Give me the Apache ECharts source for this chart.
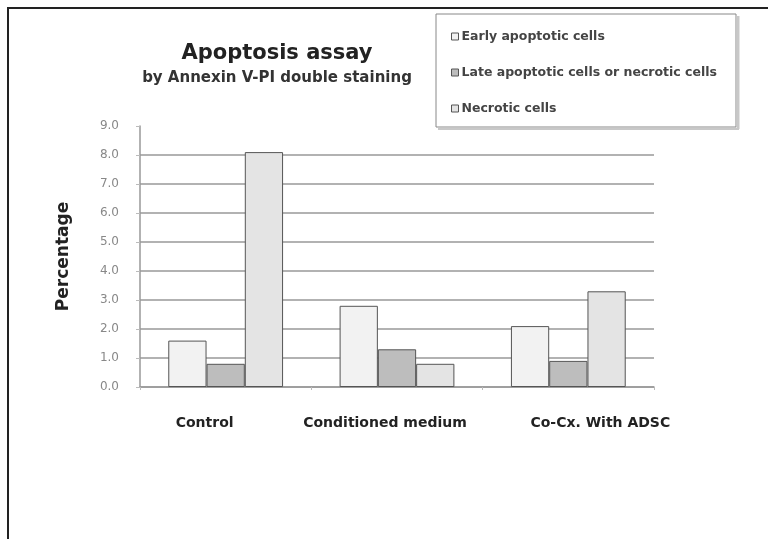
<!DOCTYPE html>
<html><head><meta charset="utf-8">
<script src="https://cdn.jsdelivr.net/npm/echarts@6/dist/echarts.min.js"></script>
<style>html,body{margin:0;padding:0;background:#fff}#c{width:768px;height:539px}</style>
</head><body><div id="c"></div>
<script>
var categories = ['Control', 'Conditioned medium', 'Co-Cx. With ADSC'];
var seriesNames = ['Early apoptotic cells', 'Late apoptotic cells or necrotic cells', 'Necrotic cells'];
var earlyApoptotic = [1.6, 2.8, 2.1];
var lateApoptotic = [0.8, 1.3, 0.9];
var necrotic = [8.1, 0.8, 3.3];
var seriesColors = ['#f2f2f2', '#bdbdbd', '#e4e4e4'];
var ff = '"DejaVu Sans", sans-serif';

var chart = echarts.init(document.getElementById('c'));
var vals = [earlyApoptotic, lateApoptotic, necrotic];
var lblBase = {fontFamily: ff, fontSize: 14, fontWeight: 'bold', color: '#222'};
chart.setOption({
  animation: false,
  backgroundColor: '#fff',
  title: [
    {text: 'Apoptosis assay', left: 272, top: 38, textAlign: 'center',
     textStyle: {fontFamily: ff, fontSize: 21, fontWeight: 'bold', color: '#222'}},
    {text: 'by Annexin V-PI double staining', left: 272, top: 66, textAlign: 'center',
     textStyle: {fontFamily: ff, fontSize: 15, fontWeight: 'bold', color: '#333'}}
  ],
  legend: {
    orient: 'vertical', left: 446, top: 25, itemGap: 23,
    itemWidth: 7, itemHeight: 7, icon: 'rect',
    data: seriesNames,
    textStyle: {fontFamily: ff, fontSize: 12.5, fontWeight: 'bold', color: '#444', padding: [0,0,0,-2]},
    itemStyle: {borderColor: '#555', borderWidth: 1}
  },
  graphic: [
    {type: 'rect', shape: {x: 8, y: 8, width: 900, height: 700}, style: {fill: 'none', stroke: '#222', lineWidth: 2}, silent: true, z: -1},
    {type: 'rect', shape: {x: 436, y: 14, width: 300, height: 113}, style: {fill: 'none', stroke: '#888', lineWidth: 1}, silent: true},
    {type: 'line', shape: {x1: 738, y1: 16, x2: 738, y2: 129}, style: {stroke: '#c8c8c8', lineWidth: 3}, silent: true},
    {type: 'line', shape: {x1: 438, y1: 129, x2: 739, y2: 129}, style: {stroke: '#c8c8c8', lineWidth: 2}, silent: true}
  ],
  grid: {left: 140, right: 114, top: 126, bottom: 152},
  xAxis: {
    type: 'category', data: categories,
    axisLine: {lineStyle: {color: '#999', width: 1.5}},
    axisTick: {show: true, length: 3, lineStyle: {color: '#bbb'}},
    axisLabel: {interval: 0, margin: 29, fontFamily: ff, fontSize: 14, fontWeight: 'bold', color: '#222',
      formatter: function (v, i) { return '{l' + i + '|' + v + '}'; },
      rich: {
        l0: Object.assign({padding: [0, 42, 0, 0]}, lblBase),
        l1: Object.assign({padding: [0, 24, 0, 0]}, lblBase),
        l2: Object.assign({padding: [0, 0, 0, 64]}, lblBase)
      }}
  },
  yAxis: {
    type: 'value', min: 0, max: 9, interval: 1,
    name: 'Percentage', nameLocation: 'middle', nameGap: 68, nameRotate: 90,
    nameTextStyle: {fontFamily: ff, fontSize: 17, fontWeight: 'bold', color: '#222'},
    axisLine: {show: true, lineStyle: {color: '#999', width: 1.5}},
    axisTick: {show: true, length: 4, lineStyle: {color: '#bbb'}},
    axisLabel: {margin: 21, fontFamily: ff, fontSize: 12, color: '#888',
      formatter: function (v) { return v.toFixed(1); }},
    splitLine: {show: true, lineStyle: {color: ['#999','#999','#999','#999','#999','#999','#999','#999','#999','transparent'], width: 1.5}}
  },
  series: seriesNames.map(function (n, i) {
    return {
      name: n, type: 'bar', data: vals[i],
      barGap: '0%', barCategoryGap: '33%',
      itemStyle: {color: seriesColors[i], borderColor: '#555', borderWidth: 1}
    };
  })
});
</script></body></html>
